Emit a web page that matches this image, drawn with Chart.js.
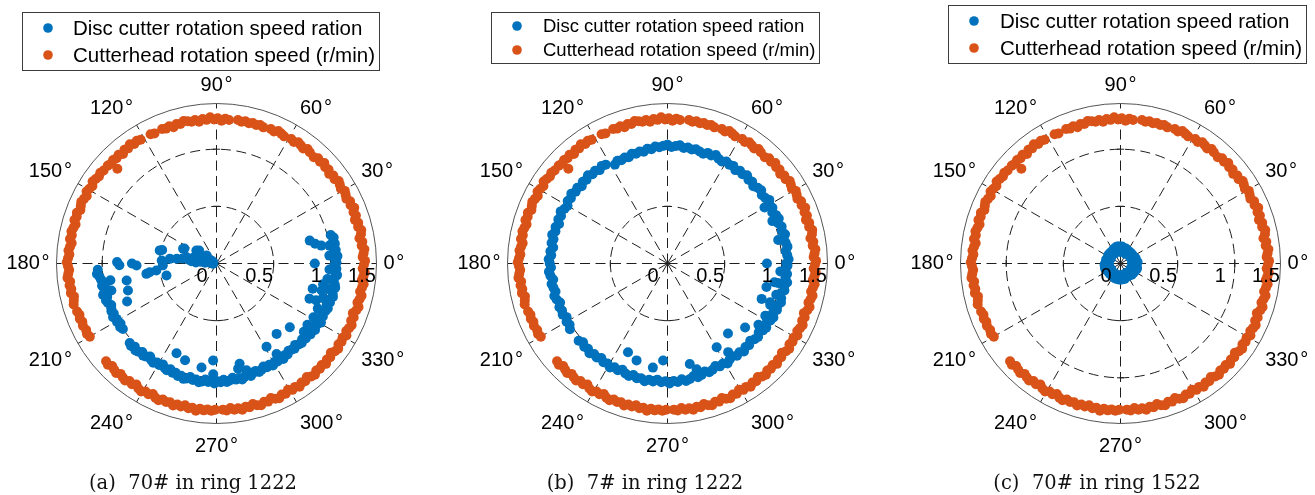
<!DOCTYPE html>
<html>
<head>
<meta charset="utf-8">
<script src="https://cdn.jsdelivr.net/npm/chart.js@4.4.1/dist/chart.umd.min.js"></script>
<style>
  body { margin: 0; background: #fff; width: 1315px; height: 495px; overflow: hidden; position: relative; }
  canvas { position: absolute; top: 0; }
  .cap { position: absolute; top: 473px; font-family: "DejaVu Serif", serif; font-size: 19.5px;
         line-height: 1; white-space: pre; color: #111; transform: translateX(-50%); }
</style>
</head>
<body>
<canvas id="chartA" width="440" height="495" style="left:0px"></canvas>
<canvas id="chartB" width="435" height="495" style="left:440px"></canvas>
<canvas id="chartC" width="440" height="495" style="left:875px"></canvas>
<div class="cap" style="left:193px">(a)  70# in ring 1222</div>
<div class="cap" style="left:645px">(b)  7# in ring 1222</div>
<div class="cap" style="left:1097px">(c)  70# in ring 1522</div>
<script>
// series names
var seriesNames = ['Disc cutter rotation speed ration', 'Cutterhead rotation speed (r/min)'];

// polar axis: outer limit, dashed rings, spokes, tick labels
var rLimit = 1.4;
var ringValues = [0.5, 1];
var spokeAngles = [0, 30, 60, 90, 120, 150, 180, 210, 240, 270, 300, 330];
var rTickPos = [0, 0.5, 1, 1.4];
var rTickText = ['0', '0.5', '1', '1.5'];

// cutterhead speed (r/min) against rotation angle (deg) - same logging for all three plots
var chAngle = [
  272.5,274,275.5,277,278.5,280,281.5,283,284.5,286,287.5,289,290.5,292,293.5,295,296.5,298,299.5,301,
  302.5,304,305.5,307,308.5,310,311.5,313,314.5,316,317.5,319,320.5,322,323.5,325,326.5,328,329.5,331,
  332.5,334,335.5,337,338.5,340,341.5,343,344.5,346,347.5,349,350.5,352,353.5,355,356.5,358,359.5,
  1,2.5,4,5.5,7,8.5,10,11.5,13,14.5,16,17.5,19,20.5,22,23.5,25,26.5,28,29.5,31,32.5,34,35.5,37,38.5,40,41.5,43,44.5,46,47.5,
  50,51.5,53,54.5,56,57.5,59,62,63.5,65,66.5,68,71,72.5,74,75.5,77,78.5,80,81.5,
  85,86.5,88,89.5,91,92.5,94,95.5,97,98.5,100,101.5,103,104.5,106,107.5,109,110.5,112,
  115.5,117,
  121.5,123,124.5,126,127.5,129,130.5,132,133.5,135,136.5,138,136.3,
  140.5,142,143.5,145,146.5,148,149.5,151,152.5,154,155.5,157,158.5,160,161.5,163,164.5,166,167.5,169,
  170.5,172,173.5,175,176.5,178,179.5,181,182.5,184,185.5,187,188.5,190,191.5,193,194.5,196,
  199,200.5,202,203.5,205,207,208.5,210,
  221.5,223,224.5,226,227.5,229,230.5,232,233.5,235,236.5,238,239.5,241,242.5,244,245.5,247,248.5,250,
  251.5,253,254.5,256,257.5,259,260.5,262,263.5,265,266.5,268,269.5
];
var chSpeed = [
  1.28,1.29,1.27,1.29,1.28,1.30,1.28,1.29,1.27,1.29,1.30,1.28,1.29,1.27,1.29,1.30,1.28,1.29,1.27,1.29,
  1.28,1.30,1.28,1.29,1.27,1.29,1.30,1.28,1.29,1.28,1.30,1.28,1.29,1.27,1.29,1.30,1.28,1.29,1.28,1.30,
  1.28,1.29,1.30,1.28,1.29,1.27,1.29,1.30,1.28,1.29,1.30,1.28,1.29,1.30,1.28,1.29,1.30,1.28,1.29,
  1.30,1.28,1.29,1.30,1.28,1.29,1.27,1.29,1.30,1.28,1.29,1.27,1.29,1.28,1.30,1.28,1.29,1.27,1.28,1.29,1.27,1.28,1.29,1.27,1.28,1.26,1.28,1.27,1.29,1.27,1.28,1.26,
  1.27,1.28,1.26,1.27,1.28,1.26,1.27,1.26,1.27,1.28,1.26,1.27,1.26,1.27,1.26,1.27,1.26,1.27,1.26,1.27,
  1.26,1.27,1.25,1.27,1.26,1.28,1.26,1.27,1.25,1.27,1.26,1.27,1.28,1.26,1.27,1.25,1.27,1.26,1.27,
  1.26,1.27,
  1.27,1.28,1.27,1.29,1.27,1.28,1.26,1.28,1.27,1.28,1.27,1.28,1.20,
  1.28,1.29,1.28,1.29,1.30,1.28,1.29,1.30,1.28,1.29,1.30,1.29,1.28,1.30,1.29,1.30,1.28,1.29,1.30,1.29,
  1.30,1.28,1.29,1.30,1.29,1.30,1.31,1.30,1.29,1.30,1.31,1.29,1.30,1.29,1.30,1.28,1.29,1.30,
  1.29,1.28,1.29,1.28,1.29,1.28,1.29,1.28,
  1.29,1.30,1.28,1.29,1.30,1.28,1.29,1.30,1.28,1.29,1.27,1.29,1.30,1.28,1.29,1.27,1.29,1.30,1.28,1.29,
  1.28,1.30,1.28,1.29,1.27,1.29,1.28,1.30,1.28,1.29,1.28,1.29,1.28
];

// disc cutter 70#, ring 1222
var discAngleA = [
  14,12.5,11,9.5,8,6.5,5,3.5,2,0.5,
  359,357.5,356,354.5,353,351.5,350,348.5,347,345.5,344,342.5,341,339.5,338,336.5,335,333.5,332,330.5,
  329,327.5,326,324.5,323,321.5,320,318.5,317,315.5,314,312.5,311,309.5,308,306.5,305,303.5,302,300.5,
  299,297.5,296,294.5,293,291.5,290,288.5,287,285.5,284,282.5,281,279.5,278,276.5,275,273.5,272,270.5,
  269,267.5,266,264.5,263,261.5,260,258.5,257,255.5,254,252.5,251,249.5,248,246.5,245,243.5,242,240.5,
  239,237.5,236,234.5,233,231.5,230,228.5,227,225.5,224,222.5,
  215,213.5,212,210.5,209,207.5,206,204.5,203,201.5,200,198.5,197,195.5,194,192.5,191,189.5,188,186.5,185,183,
  357,352,347,342,336,331,326,322,4,9,
  13.8,11.3,9.7,0,345.3,339.7,339.3,331,345.6,349,319,310.5,301,303.6,283,281.6,285.7,268,268.3,261.8,246,252,
  179.2,181,180,181.4,188.4,187.4,186.7,176.9,182,167,193.5,174.3,173.3,156,168,166,166.5,165,160,158,
  147,141,190.7,197,194.4,189,190.3,166,155,143,157,172,175,177,174,176,170,178,165,150,185,203,171.7
];
var discRatioA = [
  1.03,1.05,1.04,1.05,1.03,1.05,1.04,1.06,1.04,1.05,
  1.03,1.05,1.04,1.06,1.04,1.03,1.05,1.06,1.04,1.05,1.06,1.04,1.05,1.03,1.05,1.04,1.02,1.04,1.03,1.05,
  1.03,1.02,1.04,1.02,1.03,1.01,1.02,1.00,1.02,1.01,0.99,1.01,1.00,0.99,1.01,1.00,1.02,0.99,1.01,1.00,
  1.02,1.00,1.01,0.99,1.01,1.02,1.00,1.01,1.03,1.01,1.02,1.04,1.02,1.03,1.01,1.03,1.04,1.02,1.04,1.03,
  1.05,1.03,1.04,1.02,1.04,1.05,1.03,1.04,1.02,1.04,1.05,1.03,1.04,1.02,1.03,1.01,1.03,1.02,1.00,1.02,
  1.01,1.03,1.02,1.00,1.02,1.03,1.01,1.03,1.04,1.02,1.04,1.03,
  1.00,1.01,0.99,1.01,1.00,1.02,1.00,1.01,1.00,0.99,1.01,1.02,1.00,1.03,1.01,1.00,1.02,1.00,1.02,1.03,1.05,1.04,
  0.99,0.98,0.99,0.98,0.97,0.98,0.96,0.97,0.99,1.00,
  0.84,0.88,0.93,0.86,0.87,0.93,0.87,0.97,0.95,0.95,0.85,0.81,0.85,0.95,0.90,0.94,0.97,0.85,0.97,0.92,0.86,0.89,
  0.87,0.85,0.74,0.70,0.62,0.59,0.53,0.48,0.47,0.51,0.45,0.41,0.35,0.32,0.27,0.21,0.165,0.12,0.077,0.03,
  0.21,0.11,0.80,0.81,0.95,0.94,0.99,0.49,0.31,0.19,0.15,0.25,0.22,0.18,0.14,0.10,0.06,0.04,0.08,0.05,0.03,0.85,0.30
];

// disc cutter 7#, ring 1222
var discAngleB = [
  0,2,4,6,8,10,12,14,16,18,20,22,24,26,28,30,32,34,36,38,
  40,42,44,46,48,50,52,54,56,58,60,62,64,66,68,70,72,74,76,78,
  80,82,84,86,88,90,92,94,96,98,100,102,104,106,108,110,112,114,116,118,
  122,124,126,128,130,132,134,136,138,140,142,144,146,148,150,152,154,156,158,160,
  162,164,166,168,170,172,174,176,178,180,182,184,186,188,190,192,194,196,198,200,
  202,204,206,208,210,212,214,
  221,223,225,227,229,231,233,235,237,239,241,243,245,247,249,251,253,255,257,259,
  261,263,265,267,269,271,273,275,277,279,281,283,285,287,289,291,293,295,297,299,
  301,303,305,307,309,311,313,315,317,319,321,323,325,327,329,331,333,335,337,339,
  341,343,345,347,349,351,353,355,357,359,
  356,350,344,338,332,326,12,22,30,
  0,350.1,346.6,339.4,339.3,331.9,320.5,310.8,300.4,304.4,282.5,285.4,267.4,262,246,252.3
];
var discRatioB = [
  1.04,1.06,1.05,1.04,1.06,1.05,1.04,1.06,1.04,1.05,1.03,1.05,1.04,1.02,1.04,1.03,1.05,1.03,1.02,1.04,
  1.03,1.01,1.03,1.02,1.04,1.02,1.03,1.01,1.03,1.02,1.03,1.01,1.02,1.04,1.02,1.03,1.01,1.02,1.03,1.02,
  1.03,1.02,1.04,1.03,1.02,1.04,1.03,1.02,1.03,1.01,1.02,1.00,1.01,1.00,1.01,0.99,1.00,0.99,1.00,0.98,
  1.02,1.03,1.01,1.03,1.02,1.04,1.02,1.03,1.01,1.03,1.02,1.04,1.02,1.03,1.01,1.02,1.04,1.02,1.03,1.01,
  1.03,1.02,1.04,1.02,1.03,1.01,1.03,1.02,1.04,1.03,1.02,1.04,1.03,1.01,1.03,1.02,1.01,1.03,1.02,1.00,
  1.02,1.01,1.02,1.00,1.02,1.01,1.03,
  1.03,1.01,1.03,1.02,1.04,1.02,1.03,1.01,1.03,1.02,1.04,1.02,1.03,1.01,1.03,1.04,1.02,1.04,1.03,1.05,
  1.03,1.04,1.02,1.04,1.03,1.05,1.03,1.04,1.02,1.04,1.03,1.01,1.03,1.02,1.00,1.02,1.01,0.99,1.01,1.00,
  1.02,1.00,0.99,1.01,1.00,1.02,1.00,1.01,0.99,1.01,1.02,1.00,1.02,1.03,1.01,1.03,1.04,1.02,1.04,1.03,
  1.05,1.04,1.02,1.05,1.04,1.06,1.04,1.05,1.03,1.05,
  0.99,0.98,0.99,0.97,0.98,0.96,0.99,0.99,0.98,
  0.87,0.95,0.89,0.88,0.96,0.97,0.88,0.81,0.85,0.94,0.90,0.96,0.85,0.92,0.85,0.89
];

// disc cutter 70#, ring 1522
var discAngleC = [
  0,5,10,15,20,25,30,35,40,45,50,55,60,65,70,75,80,85,90,95,
  100,105,110,115,120,125,130,135,140,145,150,155,160,165,170,175,180,185,190,195,
  200,205,210,215,220,225,230,235,240,245,250,255,260,265,270,275,280,285,290,295,
  300,305,310,315,320,325,330,335,340,345,350,355,
  2,32,62,92,122,152,182,212,242,272,302,332
];
var discRatioC = [
  0.14,0.15,0.14,0.13,0.14,0.13,0.12,0.13,0.12,0.13,0.12,0.13,0.12,0.13,0.14,0.13,0.14,0.15,0.14,0.15,
  0.15,0.15,0.14,0.14,0.13,0.13,0.12,0.13,0.12,0.13,0.12,0.12,0.12,0.13,0.12,0.13,0.13,0.14,0.13,0.14,
  0.14,0.13,0.12,0.13,0.12,0.13,0.12,0.13,0.13,0.13,0.14,0.13,0.14,0.14,0.14,0.14,0.13,0.14,0.13,0.12,
  0.13,0.12,0.13,0.14,0.13,0.14,0.14,0.14,0.15,0.15,0.14,0.14,
  0.10,0.10,0.095,0.10,0.10,0.095,0.10,0.095,0.10,0.10,0.095,0.10
];

var BLUE = '#0072BD', ORANGE = '#D95319';
var FONT = '"Liberation Sans", Arial, Helvetica, sans-serif';
var R = 160, CY = 263.5, H = 495, DOT = 5;

var panels = [
  { id: 'chartA', w: 440, cx: 216.5, angle: discAngleA, ratio: discRatioA,
    legend: { x: 22, y: 12, w: 357, h: 58, mx: 48, my: [28, 55], tx: 73, size: 20.5 } },
  { id: 'chartB', w: 435, cx: 227.5, angle: discAngleB, ratio: discRatioB,
    legend: { x: 51, y: 12, w: 328, h: 51, mx: 77, my: [26, 50], tx: 103, size: 18.5 } },
  { id: 'chartC', w: 440, cx: 245.5, angle: discAngleC, ratio: discRatioC,
    legend: { x: 73, y: 5, w: 358, h: 58, mx: 99, my: [21, 48], tx: 125, size: 20.5 } }
];

// polar (angle, radius) -> cartesian points for the scatter scales
function toXY(angles, radii) {
  return angles.map(function (a, i) {
    var t = a * Math.PI / 180;
    return { x: radii[i] * Math.cos(t), y: radii[i] * Math.sin(t) };
  });
}

var polarFrame = {
  id: 'polarFrame',
  beforeDatasetsDraw: function (chart) {
    var ctx = chart.ctx, sx = chart.scales.x, sy = chart.scales.y;
    var cx = sx.getPixelForValue(0), cy = sy.getPixelForValue(0);
    var rp = function (v) { return sx.getPixelForValue(v) - cx; };
    var outer = rp(rLimit);
    ctx.save();
    ctx.strokeStyle = '#1e1e1e';
    ctx.lineWidth = 1;
    ctx.setLineDash([10, 5.5]);
    ringValues.forEach(function (v) {
      ctx.beginPath(); ctx.arc(cx, cy, rp(v), 0, 2 * Math.PI); ctx.stroke();
    });
    spokeAngles.forEach(function (a) {
      var t = a * Math.PI / 180;
      ctx.beginPath();
      ctx.moveTo(cx, cy);
      ctx.lineTo(cx + outer * Math.cos(t), cy - outer * Math.sin(t));
      ctx.stroke();
    });
    // small ticks where the rings cross the main axes
    ctx.setLineDash([]);
    [0, 90, 180, 270].forEach(function (a) {
      var t = a * Math.PI / 180, c = Math.cos(t), s = Math.sin(t);
      ringValues.forEach(function (v) {
        var px = cx + rp(v) * c, py = cy - rp(v) * s;
        ctx.beginPath();
        ctx.moveTo(px - 3.5 * s, py - 3.5 * c);
        ctx.lineTo(px + 3.5 * s, py + 3.5 * c);
        ctx.stroke();
      });
    });
    ctx.strokeStyle = '#555';
    ctx.lineWidth = 1;
    ctx.beginPath(); ctx.arc(cx, cy, outer, 0, 2 * Math.PI); ctx.stroke();
    ctx.restore();
  },
  afterDatasetsDraw: function (chart, args, opts) {
    var ctx = chart.ctx, sx = chart.scales.x, sy = chart.scales.y;
    var cx = sx.getPixelForValue(0), cy = sy.getPixelForValue(0);
    var outer = sx.getPixelForValue(rLimit) - cx;
    ctx.save();
    ctx.fillStyle = '#000';
    ctx.font = '20px ' + FONT;

    // radial tick labels along the 0 degree axis
    ctx.textAlign = 'center';
    ctx.textBaseline = 'alphabetic';
    rTickPos.forEach(function (v, i) {
      ctx.fillText(rTickText[i], sx.getPixelForValue(v) - 14.5, cy + 18.5);
    });

    // angle labels
    spokeAngles.forEach(function (a) {
      var t = a * Math.PI / 180, c = Math.cos(t), s = Math.sin(t);
      ctx.textAlign = c > 0.2 ? 'left' : (c < -0.2 ? 'right' : 'center');
      ctx.textBaseline = s > 0.2 ? 'alphabetic' : (s < -0.2 ? 'top' : 'middle');
      ctx.fillText(a + '\u200a°', cx + (outer + 7) * c, cy - (outer + 13) * s);
    });

    // legend box
    var L = opts.legend;
    ctx.fillStyle = '#fff';
    ctx.fillRect(L.x, L.y, L.w, L.h);
    ctx.strokeStyle = '#3c3c3c';
    ctx.lineWidth = 1;
    ctx.strokeRect(L.x + 0.5, L.y + 0.5, L.w, L.h);
    ctx.font = L.size + 'px ' + FONT;
    ctx.textAlign = 'left';
    ctx.textBaseline = 'middle';
    [BLUE, ORANGE].forEach(function (col, i) {
      ctx.fillStyle = col;
      ctx.beginPath(); ctx.arc(L.mx, L.my[i], 4.8, 0, 2 * Math.PI); ctx.fill();
      ctx.fillStyle = '#000';
      ctx.fillText(seriesNames[i], L.tx, L.my[i] + 1);
    });
    ctx.restore();
  }
};

panels.forEach(function (p) {
  var dot = { pointRadius: DOT, pointHoverRadius: DOT, borderWidth: 0, pointStyle: 'circle' };
  new Chart(document.getElementById(p.id), {
    type: 'scatter',
    data: {
      datasets: [
        Object.assign({ label: seriesNames[0], data: toXY(p.angle, p.ratio),
          backgroundColor: BLUE, borderColor: BLUE, order: 2 }, dot),
        Object.assign({ label: seriesNames[1], data: toXY(chAngle, chSpeed),
          backgroundColor: ORANGE, borderColor: ORANGE, order: 1 }, dot)
      ]
    },
    options: {
      responsive: false,
      animation: false,
      devicePixelRatio: 1,
      events: [],
      layout: { padding: { left: p.cx - R, right: p.w - p.cx - R, top: CY - R, bottom: H - CY - R } },
      scales: {
        x: { type: 'linear', min: -rLimit, max: rLimit, display: false },
        y: { type: 'linear', min: -rLimit, max: rLimit, display: false }
      },
      plugins: {
        legend: { display: false },
        tooltip: { enabled: false },
        polarFrame: { legend: p.legend }
      }
    },
    plugins: [polarFrame]
  });
});
</script>
</body>
</html>
